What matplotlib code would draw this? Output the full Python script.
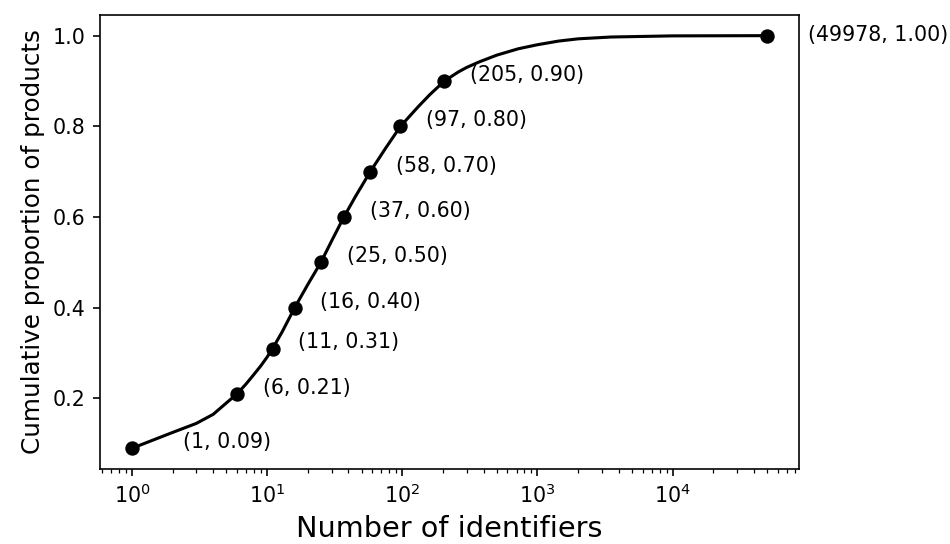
import matplotlib
matplotlib.use("Agg")
import matplotlib.pyplot as plt

# Cumulative share of products by number of identifiers (empirical CDF)
curve_counts = [1, 2, 3, 4, 5, 6, 7, 8, 9, 10, 11, 13, 16, 20, 25, 30, 37, 45, 58, 75,
                97, 130, 160, 205, 260, 300, 370, 500, 720, 1000, 1430, 2000, 3500,
                10000, 49978]
curve_props = [0.09, 0.125, 0.145, 0.165, 0.19, 0.21, 0.232, 0.253, 0.272, 0.291, 0.31,
               0.348, 0.40, 0.451, 0.50, 0.547, 0.60, 0.645, 0.70, 0.751,
               0.80, 0.842, 0.870, 0.90, 0.920, 0.930, 0.942, 0.957, 0.971, 0.980,
               0.988, 0.993, 0.997, 0.9995, 1.00]

# Highlighted quantile points
mark_counts = [1, 6, 11, 16, 25, 37, 58, 97, 205, 49978]
mark_props = [0.09, 0.21, 0.31, 0.40, 0.50, 0.60, 0.70, 0.80, 0.90, 1.00]

# label offsets (points) for each highlighted point
label_dx = [25, 12.5, 12.5, 12.5, 12.5, 12.5, 12.5, 12.5, 12.5, 20]
label_dy = [3, 3, 3, 3, 3, 3, 3, 3, 3, 0.5]

fig = plt.figure(figsize=(950 / 148, 544 / 148), dpi=148)
ax = fig.add_axes([0.1053, 0.1379, 0.7357, 0.8345])

ax.plot(curve_counts, curve_props, color="black", linewidth=1.5)
ax.plot(mark_counts, mark_props, "o", color="black", markersize=6)

for c, p, dx, dy in zip(mark_counts, mark_props, label_dx, label_dy):
    ax.annotate(f"({c}, {p:.2f})", (c, p), textcoords="offset points",
                xytext=(dx, dy), ha="left", va="center", fontsize=10,
                annotation_clip=False)

ax.set_xscale("log")
ax.set_xlabel("Number of identifiers", fontsize=14)
ax.set_ylabel("Cumulative proportion of products", fontsize=12)

fig.savefig("out.png", dpi=148)
